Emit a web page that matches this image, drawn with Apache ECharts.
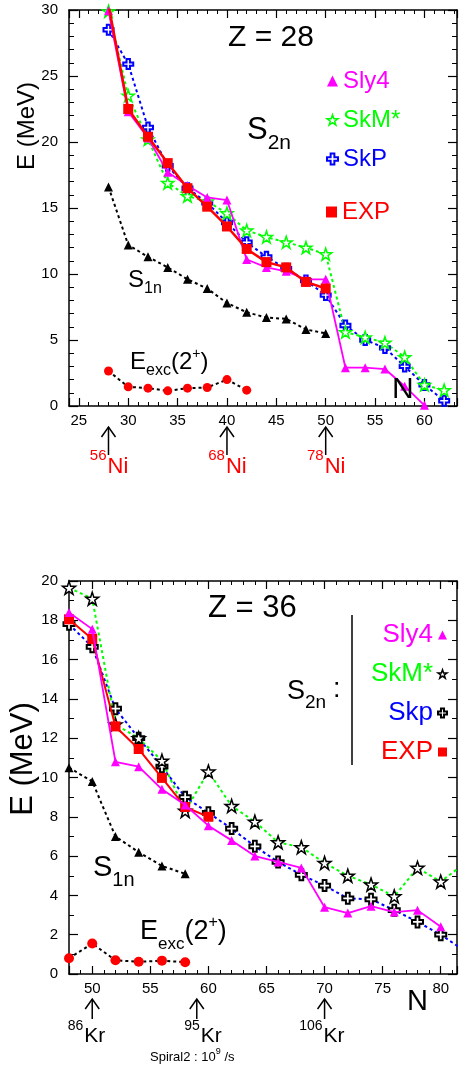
<!DOCTYPE html>
<html><head><meta charset="utf-8">
<script src="https://cdn.jsdelivr.net/npm/echarts@6/dist/echarts.min.js"></script>
<style>html,body{margin:0;padding:0;background:#fff}#c{width:460px;height:1069px}</style>
</head><body><div id="c"></div>
<script>
// ---------------- DATA : Z = 28 (upper panel) ----------------
const z28_N_sly4 = [28,30,32,34,36,38,40,42,44,46,48,50,52,54,56,58,60];
const z28_sly4   = [29.95,22.3,20.3,17.7,16.7,15.8,15.6,11.1,10.5,10.2,9.6,9.6,2.9,2.9,2.8,1.5,0.05];
const z28_N_th   = [28,30,32,34,36,38,40,42,44,46,48,50,52,54,56,58,60,62];
const z28_skm    = [29.9,23.5,20.2,16.9,15.9,15.5,14.6,13.3,12.8,12.4,12.0,11.5,5.6,5.2,4.8,3.7,1.6,1.2];
const z28_skp    = [28.5,25.9,21.1,18.2,16.5,15.4,13.9,12.4,11.3,10.4,9.5,8.4,6.1,5.0,4.4,3.0,1.6,0.4];
const z28_N_exp  = [28,30,32,34,36,38,40,42,44,46,48,50];
const z28_exp    = [30.4,22.5,20.4,18.4,16.5,15.1,13.6,11.9,10.9,10.5,9.4,8.9];
const z28_s1n    = [16.6,12.2,11.3,10.5,9.6,8.9,7.8,7.1,6.7,6.6,5.8,5.5];
const z28_N_eexc = [28,30,32,34,36,38,40,42];
const z28_eexc   = [2.65,1.45,1.35,1.15,1.35,1.4,2.0,1.2];
const z28_magicN = [28,40,50];
const z28_magicA = ['56','68','78'];

// ---------------- DATA : Z = 36 (lower panel) ----------------
const z36_N_sly4 = [48,50,52,54,56,58,60,62,64,66,68,70,72,74,76,78,80];
const z36_sly4   = [18.4,17.55,10.8,10.55,9.4,8.6,7.55,6.8,6.0,5.7,5.4,3.4,3.1,3.45,3.15,3.25,2.4];
const z36_N_th   = [48,50,52,54,56,58,60,62,64,66,68,70,72,74,76,78,80,82];
const z36_skm    = [19.65,19.1,12.7,12.0,10.85,8.3,10.3,8.55,7.75,6.7,6.45,5.65,5.0,4.55,3.95,5.4,4.7,5.6];
const z36_skp    = [17.8,16.65,13.5,12.0,10.55,9.0,8.2,7.4,6.5,5.7,5.05,4.5,3.85,3.8,3.25,2.65,2.0,1.2];
const z36_N_exp  = [48,50,52,54,56,58,60];
const z36_exp    = [18.05,17.05,12.6,11.45,9.98,8.5,8.0];
const z36_N_low  = [48,50,52,54,56,58];
const z36_s1n    = [10.5,9.8,7.0,6.2,5.5,5.1];
const z36_eexc   = [0.8,1.55,0.7,0.62,0.68,0.6];
const z36_markN  = [50,59,70];
const z36_markA  = ['86','95','106'];

// ---------------- STYLE ----------------
const FONT = '"Liberation Sans", Arial, Helvetica, sans-serif';
const STAR = 'path://M50,2 L61.8,36.2 L97.6,36.2 L68.7,57.6 L79.4,91.8 L50,70.7 L20.6,91.8 L31.3,57.6 L2.4,36.2 L38.2,36.2 Z';
const PLUS = 'path://M33,0 L67,0 L67,33 L100,33 L100,67 L67,67 L67,100 L33,100 L33,67 L0,67 L0,33 L33,33 Z';
const MAG = '#ff00ff', GRN = '#00ff00', BLU = '#0000ff', RED = '#ff0000';

const chart = echarts.init(document.getElementById('c'), null, {renderer: 'canvas', width: 460, height: 1069});
const zip = (ns, vs) => ns.map((n, i) => [n, vs[i]]);

function xAxes(grid, min, max) {
  const base = {
    type: 'value', gridIndex: grid, min: min, max: max, splitNumber: 8, minInterval: 5, maxInterval: 5,
    splitLine: {show: false},
    axisLine: {show: true, onZero: false, lineStyle: {color: '#000', width: 1.5}},
    axisTick: {show: true, inside: true, length: 8, lineStyle: {color: '#000', width: 1.2}},
    minorTick: {show: true, splitNumber: 5, length: 4, lineStyle: {color: '#000', width: 1}}
  };
  return [
    Object.assign({}, base, {position: 'bottom', axisLabel: {show: true, margin: 7, fontSize: 15, fontFamily: FONT, color: '#000',
      formatter: v => (Math.abs(v % 5) < 1e-9 ? String(Math.round(v)) : '')}}),
    Object.assign({}, base, {position: 'top', axisLabel: {show: false}})
  ];
}
function yAxes(grid, max, interval, minorSplit) {
  const base = {
    type: 'value', gridIndex: grid, min: 0, max: max, interval: interval,
    splitLine: {show: false},
    axisLine: {show: true, onZero: false, lineStyle: {color: '#000', width: 1.5}},
    axisTick: {show: true, inside: true, length: 9, lineStyle: {color: '#000', width: 1.2}},
    minorTick: {show: true, splitNumber: minorSplit, length: 5, lineStyle: {color: '#000', width: 1}}
  };
  return [
    Object.assign({}, base, {position: 'left', axisLabel: {show: true, margin: 11, fontSize: 15, fontFamily: FONT, color: '#000'}}),
    Object.assign({}, base, {position: 'right', axisLabel: {show: false}})
  ];
}
function line(name, ax, ns, vs, o) {
  return {
    type: 'line', name: name, xAxisIndex: ax, yAxisIndex: ax, data: zip(ns, vs),
    symbol: o.symbol, symbolSize: o.size, showSymbol: true, clip: true, z: o.z || 2,
    animation: false, emphasis: {disabled: true}, silent: true,
    itemStyle: {color: o.fill, borderColor: o.stroke || o.fill, borderWidth: o.bw || 0},
    lineStyle: {color: o.lc, width: o.lw, type: o.lt || 'solid'}
  };
}
const dot = [3, 3];

const series = [
  // upper panel
  line('S1n28', 0, z28_N_exp, z28_s1n, {symbol: 'triangle', size: 9, fill: '#000', lc: '#000', lw: 2, lt: dot, z: 2}),
  line('Eexc28', 0, z28_N_eexc, z28_eexc, {symbol: 'circle', size: 9, fill: RED, lc: '#000', lw: 2, lt: dot, z: 2}),
  line('SkP', 0, z28_N_th, z28_skp, {symbol: PLUS, size: 10, fill: '#fff', stroke: BLU, bw: 2, lc: BLU, lw: 2, lt: dot, z: 3}),
  line('SkM*', 0, z28_N_th, z28_skm, {symbol: STAR, size: 12, fill: '#fff', stroke: GRN, bw: 1.5, lc: GRN, lw: 2, lt: dot, z: 3}),
  line('Sly4', 0, z28_N_sly4, z28_sly4, {symbol: 'triangle', size: 9, fill: MAG, lc: MAG, lw: 1.8, z: 4}),
  line('EXP', 0, z28_N_exp, z28_exp, {symbol: 'rect', size: 10, fill: RED, lc: RED, lw: 2.5, z: 5}),
  // lower panel
  line('S1n36', 2, z36_N_low, z36_s1n, {symbol: 'triangle', size: 9, fill: '#000', lc: '#000', lw: 2, lt: dot, z: 2}),
  line('Eexc36', 2, z36_N_low, z36_eexc, {symbol: 'circle', size: 10, fill: RED, lc: '#000', lw: 2, lt: dot, z: 2}),
  line('Skp', 2, z36_N_th, z36_skp, {symbol: PLUS, size: 11, fill: '#fff', stroke: '#000', bw: 2, lc: BLU, lw: 2, lt: dot, z: 3}),
  line('SkM* ', 2, z36_N_th, z36_skm, {symbol: STAR, size: 13, fill: '#fff', stroke: '#000', bw: 1.5, lc: GRN, lw: 2, lt: dot, z: 3}),
  line('EXP ', 2, z36_N_exp, z36_exp, {symbol: 'rect', size: 10, fill: RED, lc: RED, lw: 2, z: 4}),
  line('Sly4 ', 2, z36_N_sly4, z36_sly4, {symbol: 'triangle', size: 9, fill: MAG, lc: MAG, lw: 1.8, z: 5})
];

const legTxt = {fontFamily: FONT};
chart.setOption({
  animation: false,
  backgroundColor: '#fff',
  grid: [
    {left: 69, top: 10, width: 389, height: 396},
    {left: 69, top: 581, width: 389, height: 393}
  ],
  xAxis: [].concat(xAxes(0, 24, 63.3), xAxes(1, 48, 81.4)),
  yAxis: [].concat(yAxes(0, 30, 5, 5), yAxes(1, 20, 2, 2)),
  legend: [
    {orient: 'vertical', left: 321, top: 63, itemWidth: 11, itemHeight: 11, itemGap: 13, selectedMode: false,
     textStyle: Object.assign({fontSize: 24, lineHeight: 26}, legTxt),
     data: [
       {name: 'Sly4', icon: 'triangle', itemStyle: {color: MAG, borderWidth: 0}, textStyle: {color: MAG}},
       {name: 'SkM*', icon: STAR, itemStyle: {color: '#fff', borderColor: GRN, borderWidth: 1.5}, textStyle: {color: GRN}},
       {name: 'SkP', icon: PLUS, itemStyle: {color: '#fff', borderColor: BLU, borderWidth: 2}, textStyle: {color: BLU}}
     ]},
    {orient: 'vertical', left: 321, top: 194, itemWidth: 11, itemHeight: 11, selectedMode: false,
     textStyle: Object.assign({fontSize: 24, lineHeight: 26}, legTxt),
     data: [{name: 'EXP', icon: 'rect', itemStyle: {color: RED, borderWidth: 0}, textStyle: {color: RED}}]},
    {orient: 'vertical', align: 'right', left: 362, top: 616, itemWidth: 9, itemHeight: 9, itemGap: 11, selectedMode: false,
     formatter: n => n.trim(),
     textStyle: Object.assign({fontSize: 26, lineHeight: 28, width: 66}, legTxt),
     data: [
       {name: 'Sly4 ', icon: 'triangle', itemStyle: {color: MAG, borderWidth: 0}, textStyle: {color: MAG}},
       {name: 'SkM* ', icon: STAR, itemStyle: {color: '#fff', borderColor: '#000', borderWidth: 1.5}, textStyle: {color: GRN}},
       {name: 'Skp', icon: PLUS, itemStyle: {color: '#fff', borderColor: '#000', borderWidth: 2}, textStyle: {color: BLU}},
       {name: 'EXP ', icon: 'rect', itemStyle: {color: RED, borderWidth: 0}, textStyle: {color: RED}}
     ]}
  ],
  series: series
});

// ---------------- ANNOTATIONS ----------------
const mctx = document.createElement('canvas').getContext('2d');
function w(t, s) { mctx.font = s + 'px ' + FONT; return mctx.measureText(t).width; }
const G = [];
function seq(x, y, parts, color) {
  let cx = x;
  parts.forEach(p => {
    G.push({type: 'text', x: cx, y: y + (p[2] || 0), silent: true, z: 100,
      style: {text: p[0], fontSize: p[1], fontFamily: FONT, fill: color || '#000', align: 'left', verticalAlign: 'middle'}});
    cx += w(p[0], p[1]);
  });
}
function vtext(x, y, t, s) {
  G.push({type: 'text', x: x, y: y, rotation: Math.PI / 2, silent: true, z: 100,
    style: {text: t, fontSize: s, fontFamily: FONT, fill: '#000', align: 'center', verticalAlign: 'middle'}});
}
function arrow(x, yTip, yEnd, hw, hh) {
  G.push({type: 'polyline', silent: true, z: 100, shape: {points: [[x, yEnd], [x, yTip]]}, style: {stroke: '#000', lineWidth: 1.5, fill: null}});
  G.push({type: 'polyline', silent: true, z: 100, shape: {points: [[x - hw, yTip + hh], [x, yTip], [x + hw, yTip + hh]]}, style: {stroke: '#000', lineWidth: 1.5, fill: null}});
}

// upper panel
seq(228, 38, [['Z = 28', 30]]);
seq(247, 130, [['S', 31], ['2n', 21, 13]]);
seq(128, 280, [['S', 24], ['1n', 16, 9]]);
seq(130, 362, [['E', 24], ['exc', 16, 9], ['(2', 24], ['+', 14, -8], [')', 24]]);
seq(392, 390, [['N', 30]]);
vtext(27, 126, 'E (MeV)', 24);
z28_magicN.forEach((n, i) => {
  const x = chart.convertToPixel({xAxisIndex: 0}, n);
  arrow(x, 427, 455, 7, 10);
  const sw = w(z28_magicA[i], 15);
  seq(x - 2 - sw, 456, [[z28_magicA[i], 15]], RED);
  seq(x - 1, 467, [['Ni', 22]], RED);
});

// lower panel
seq(208, 608, [['Z = 36', 31]]);
seq(287, 692, [['S', 27], ['2n', 19, 11]]);
seq(333, 690, [[':', 27]]);
G.push({type: 'line', silent: true, z: 100, shape: {x1: 352, y1: 615, x2: 352, y2: 765}, style: {stroke: '#000', lineWidth: 1.5}});
seq(93, 868, [['S', 29], ['1n', 20, 12]]);
seq(140, 932, [['E', 27], ['exc', 17, 12], ['(2', 27], ['+', 16, -9], [')', 27]]);
seq(407, 1002, [['N', 29]]);
vtext(23, 759, 'E (MeV)', 31);
const krDx = [-8, 4, -1];
z36_markN.forEach((n, i) => {
  const x = chart.convertToPixel({xAxisIndex: 2}, n);
  arrow(x, 999, 1019, 7, 10);
  const sw = w(z36_markA[i], 14);
  seq(x + krDx[i] - 1 - sw, 1026, [[z36_markA[i], 14]]);
  seq(x + krDx[i], 1036, [['Kr', 21]]);
});
seq(150, 1057, [['Spiral2 : 10', 13], ['9', 9, -5], [' /s', 13]]);

chart.setOption({graphic: {elements: G}});
</script>
</body></html>
